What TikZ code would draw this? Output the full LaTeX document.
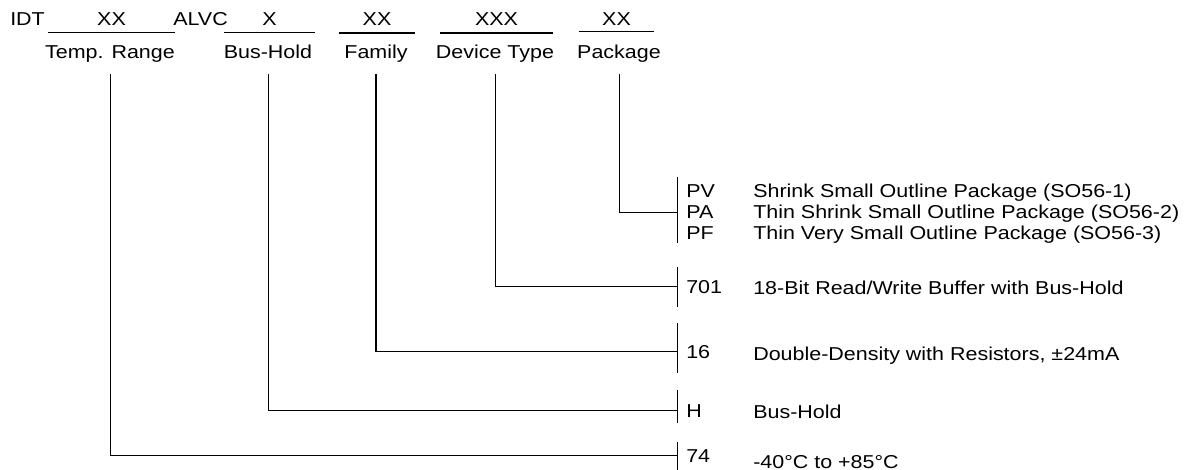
\documentclass[tikz,border=0pt]{standalone}
\usepackage{fontspec}
\setmainfont{Liberation Sans}[FakeStretch=1.15]
\usetikzlibrary{positioning}

\begin{document}
\begin{tikzpicture}[
  x=0.75pt, y=-0.75pt,
  every node/.style={font=\fontsize{14pt}{16pt}\selectfont, inner sep=0pt},
  slot/.style={anchor=base, inner ysep=4.8pt, text depth=0pt},
  field/.style={anchor=base, text depth=3pt, inner ysep=8pt},
  code/.style={anchor=base west},
  uline/.style={line width=0.6pt},
  heavy/.style={line width=1.3pt},
  link/.style={line width=0.7pt}
]
  \useasboundingbox (0,0) rectangle (1188,470);

  % part number
  \node[code] (idt) at (10,26) {IDT};
  \node[slot, minimum width=95.25pt] (temp-x) at (111.5,26) {XX};
  \node[code] (alvc) at (173,26) {ALVC};
  \node[slot, minimum width=68.25pt] (bus-x) at (269.5,26) {X};
  \node[slot, minimum width=57pt] (fam-x) at (377,26) {XX};
  \node[slot, minimum width=84.75pt] (dev-x) at (496.5,26) {XXX};
  \node[slot, minimum width=56.25pt, inner ysep=3.6pt] (pkg-x) at (616.5,26) {XX};
  \draw[uline] (temp-x.south west) -- (temp-x.south east);
  \draw[uline] (bus-x.south west) -- (bus-x.south east);
  \draw[heavy] (fam-x.south west) -- (fam-x.south east);
  \draw[heavy] (dev-x.south west) -- (dev-x.south east);
  \draw[uline] (pkg-x.south west) -- (pkg-x.south east);

  \node[field] (temp) at (110,59) {Temp. Range};
  \node[field] (bus) at (268,59) {Bus-Hold};
  \node[field] (fam) at (376,59) {Family};
  \node[field] (dev) at (495,59) {Device Type};
  \node[field] (pkg) at (619,59) {Package};

  % options
  \node[code] (pv) at (686,198) {PV};
  \node[code] (pa) at (686,219) {PA};
  \node[code] (pf) at (686,240) {PF};
  \node[code] (c701) at (686,293) {701};
  \node[code] (c16) at (686,358) {16};
  \node[code] (ch) at (686,417) {H};
  \node[code] (c74) at (686,462) {74};

  \node[code] (pv-d) at (753,198) {Shrink Small Outline Package (SO56-1)};
  \node[code] (pa-d) at (753,219) {Thin Shrink Small Outline Package (SO56-2)};
  \node[code] (pf-d) at (753,240) {Thin Very Small Outline Package (SO56-3)};
  \node[code] (c701-d) at (753,294) {18-Bit Read/Write Buffer with Bus-Hold};
  \node[code] (c16-d) at (753,360) {Double-Density with Resistors, ±24mA};
  \node[code] (ch-d) at (753,418) {Bus-Hold};
  \node[code] (c74-d) at (753,468) {-40°C to +85°C};

  % brackets
  \coordinate (pkg-top) at (677,177);  \coordinate (pkg-bot) at (677,243);
  \coordinate (dev-top) at (677,267);  \coordinate (dev-bot) at (677,307);
  \coordinate (fam-top) at (677,323);  \coordinate (fam-bot) at (677,373);
  \coordinate (bus-top) at (677,390);  \coordinate (bus-bot) at (677,423);
  \coordinate (temp-top) at (677,442); \coordinate (temp-bot) at (677,470);
  \draw[link] (pkg-top) -- (pkg-bot);
  \draw[link] (dev-top) -- (dev-bot);
  \draw[link] (fam-top) -- (fam-bot);
  \draw[link] (bus-top) -- (bus-bot);
  \draw[link] (temp-top) -- (temp-bot);

  \draw[link] (pkg.south) |- (pkg-top |- pa.west);
  \draw[link] (dev.south) |- (dev-top |- c701.west);
  \draw[link, line width=0.85pt] (fam.south) |- (fam-top |- c16.west);
  \draw[link] (bus.south) |- (bus-top |- ch.west);
  \draw[link] (temp.south) |- (temp-top |- c74.west);
\end{tikzpicture}
\end{document}
